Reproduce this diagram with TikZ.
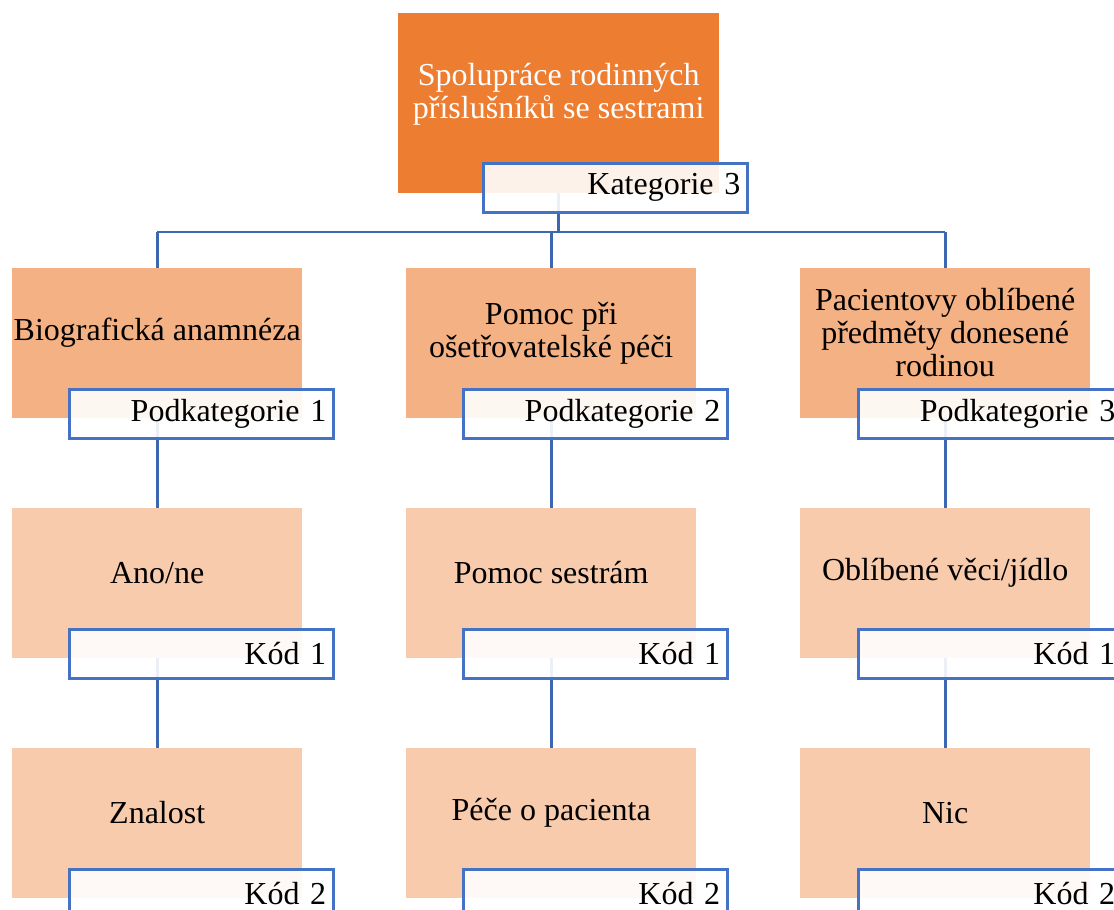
\documentclass[tikz,border=0pt]{standalone}
\usepackage{fontspec}
\setmainfont{Liberation Serif}
\usepackage{tikz}
\usetikzlibrary{positioning,backgrounds}

\definecolor{catorange}{HTML}{ED7D31}
\definecolor{suborange}{HTML}{F4B183}
\definecolor{codeorange}{HTML}{F8CBAD}
\definecolor{tagblue}{HTML}{4472C4}

\begin{document}
\begin{tikzpicture}[
  x=1pt, y=-1pt,
  font=\fontsize{32}{33}\selectfont,
  catbox/.style={rectangle, fill=catorange, anchor=north west, inner sep=0pt, minimum width=321pt, minimum height=180pt},
  subbox/.style={rectangle, fill=suborange, anchor=north west, inner sep=0pt, minimum width=290pt, minimum height=150pt},
  codebox/.style={subbox, fill=codeorange},
  boxtext/.style={align=center, inner sep=0pt},
  tag/.style={rectangle, draw=tagblue, line width=2.5pt, fill=white, fill opacity=0.9, text opacity=1, anchor=north west, text width=250pt, align=right, inner xsep=7pt, inner ysep=0pt, minimum height=49pt},
  conn/.style={draw=tagblue!90!black, line width=2.6pt},
]
\useasboundingbox (0,0) rectangle (1114,910);

% --- Kategorie (top) ---
\node[catbox] (top) at (398,13) {};
\node[boxtext, text=white] (topt) at ([yshift=-81pt]top.north) {Spolupráce rodinných\\příslušníků se sestrami};

% --- Podkategorie ---
\node[subbox] (b1) at (12,268) {};
\node[subbox] (b2) at (406,268) {};
\node[subbox] (b3) at (800,268) {};
\node[boxtext] (b1t) at ([yshift=-65pt]b1.north) {Biografická anamnéza};
\node[boxtext] (b2t) at ([yshift=-65pt]b2.north) {Pomoc při\\ošetřovatelské péči};
\node[boxtext] (b3t) at ([yshift=-65pt]b3.north) {Pacientovy oblíbené\\předměty donesené\\rodinou};

% --- Kód 1 ---
\node[codebox] (c1) at (12,508) {};
\node[codebox] (c2) at (406,508) {};
\node[codebox] (c3) at (800,508) {};
\node[boxtext] (c1t) at ([yshift=-65pt]c1.north) {Ano/ne};
\node[boxtext] (c2t) at ([yshift=-65pt]c2.north) {Pomoc sestrám};
\node[boxtext] (c3t) at ([yshift=-65pt]c3.north) {Oblíbené věci/jídlo};

% --- Kód 2 ---
\node[codebox] (d1) at (12,748) {};
\node[codebox] (d2) at (406,748) {};
\node[codebox] (d3) at (800,748) {};
\node[boxtext] (d1t) at ([yshift=-65pt]d1.north) {Znalost};
\node[boxtext] (d2t) at ([yshift=-65pt]d2.north) {Péče o pacienta};
\node[boxtext] (d3t) at ([yshift=-65pt]d3.north) {Nic};

% --- connectors behind the boxes ---
\coordinate (bus) at (558,232);
\begin{scope}[on background layer]
  \draw[conn] (top.center) -- (top.center |- bus);
  \draw[conn] (b1.center |- bus) -- (b3.center |- bus);
  \draw[conn] (b1.center |- bus) -- (b1.center);
  \draw[conn] (b2.center |- bus) -- (b2.center);
  \draw[conn] (b3.center |- bus) -- (b3.center);
  \draw[conn] (b1.center) -- (c1.center) -- (d1.center);
  \draw[conn] (b2.center) -- (c2.center) -- (d2.center);
  \draw[conn] (b3.center) -- (c3.center) -- (d3.center);
\end{scope}

% --- tags ---
\node[tag] (kat) at ([xshift=84pt, yshift=-149pt]top.north west) {Kategorie 3};
\node[tag] (p1) at ([xshift=56pt, yshift=-120pt]b1.north west) {Podkategorie 1};
\node[tag] (p2) at ([xshift=56pt, yshift=-120pt]b2.north west) {Podkategorie 2};
\node[tag] (p3) at ([xshift=57pt, yshift=-120pt]b3.north west) {Podkategorie 3};
\node[tag] (k11) at ([xshift=56pt, yshift=-120pt]c1.north west) {Kód 1};
\node[tag] (k21) at ([xshift=56pt, yshift=-120pt]c2.north west) {Kód 1};
\node[tag] (k31) at ([xshift=57pt, yshift=-120pt]c3.north west) {Kód 1};
\node[tag] (k12) at ([xshift=56pt, yshift=-120pt]d1.north west) {Kód 2};
\node[tag] (k22) at ([xshift=56pt, yshift=-120pt]d2.north west) {Kód 2};
\node[tag] (k32) at ([xshift=57pt, yshift=-120pt]d3.north west) {Kód 2};

\end{tikzpicture}
\end{document}
